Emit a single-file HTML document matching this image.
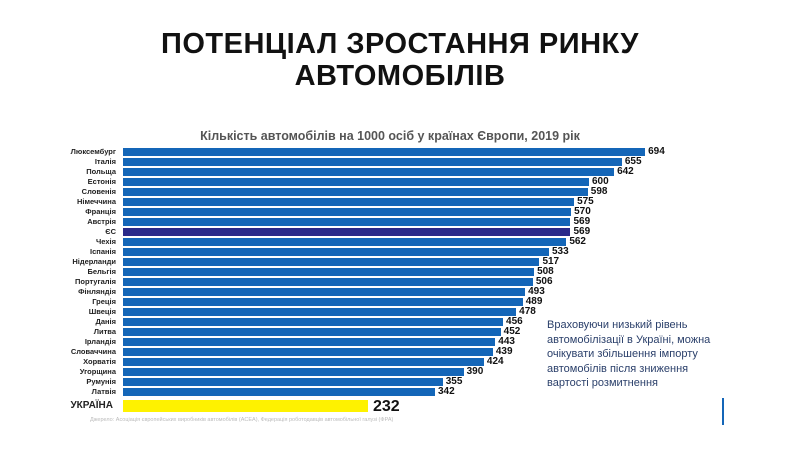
<!DOCTYPE html>
<html><head><meta charset="utf-8"><style>
body{margin:0;width:800px;height:450px;background:#fff;position:relative;overflow:hidden;font-family:"Liberation Sans","DejaVu Sans",sans-serif}
.t{position:absolute;left:0;width:800px;text-align:center;font-weight:bold;font-size:29px;color:#111;letter-spacing:0.5px}
.s{position:absolute;left:150px;width:480px;text-align:center;top:129px;font-size:12.5px;font-weight:bold;color:#555}
.l{position:absolute;width:116px;left:0;text-align:right;font-size:7.5px;font-weight:bold;color:#222;line-height:8px}
.b{position:absolute;left:123px;height:8px;background:#1466b8}
.v{position:absolute;font-size:10px;font-weight:bold;color:#111;line-height:8px}
.n{position:absolute;left:547px;top:318px;font-size:11px;line-height:14.5px;color:#2a3f6a}
</style></head><body>
<div class="t" style="top:28px">ПОТЕНЦІАЛ ЗРОСТАННЯ РИНКУ</div>
<div class="t" style="top:60px">АВТОМОБІЛІВ</div>
<div class="s">Кількість автомобілів на 1000 осіб у країнах Європи, 2019 рік</div>
<div id="c"></div>
<div class="l" style="top:400px;font-size:10px;line-height:12px;width:113px">УКРАЇНА</div>
<div style="position:absolute;left:123px;top:400px;width:245px;height:12px;background:#fef200"></div>
<div class="v" style="left:373px;top:400px;font-size:16px;line-height:14px">232</div>
<div style="position:absolute;left:90px;top:417px;font-size:5.5px;color:#bbb">Джерело: Асоціація європейських виробників автомобілів (ACEA), Федерація роботодавців автомобільної галузі (ФРА)</div>
<div class="n">Враховуючи низький рівень<br>автомобілізації в Україні, можна<br>очікувати збільшення імпорту<br>автомобілів після зниження<br>вартості розмитнення</div>
<div style="position:absolute;left:722px;top:398px;width:2px;height:27px;background:#1466b8"></div>
<script>
var d=[["Люксембург",694],["Італія",655],["Польща",642],["Естонія",600],["Словенія",598],["Німеччина",575],["Франція",570],["Австрія",569],["ЄС",569],["Чехія",562],["Іспанія",533],["Нідерланди",517],["Бельгія",508],["Португалія",506],["Фінляндія",493],["Греція",489],["Швеція",478],["Данія",456],["Литва",452],["Ірландія",443],["Словаччина",439],["Хорватія",424],["Угорщина",390],["Румунія",355],["Латвія",342]];
var h="";d.forEach(function(r,i){var y=148+i*10.0;var e=230.8+0.597*r[1];
h+='<div class="l" style="top:'+y+'px">'+r[0]+'</div><div class="b" style="top:'+y+'px;width:'+(e-123)+'px;'+(r[0]=="ЄС"?'background:#2a2a8a':'')+'"></div><div class="v" style="left:'+(e+3)+'px;top:'+y+'px">'+r[1]+'</div>';});
document.getElementById("c").innerHTML=h;
</script>
</body></html>
